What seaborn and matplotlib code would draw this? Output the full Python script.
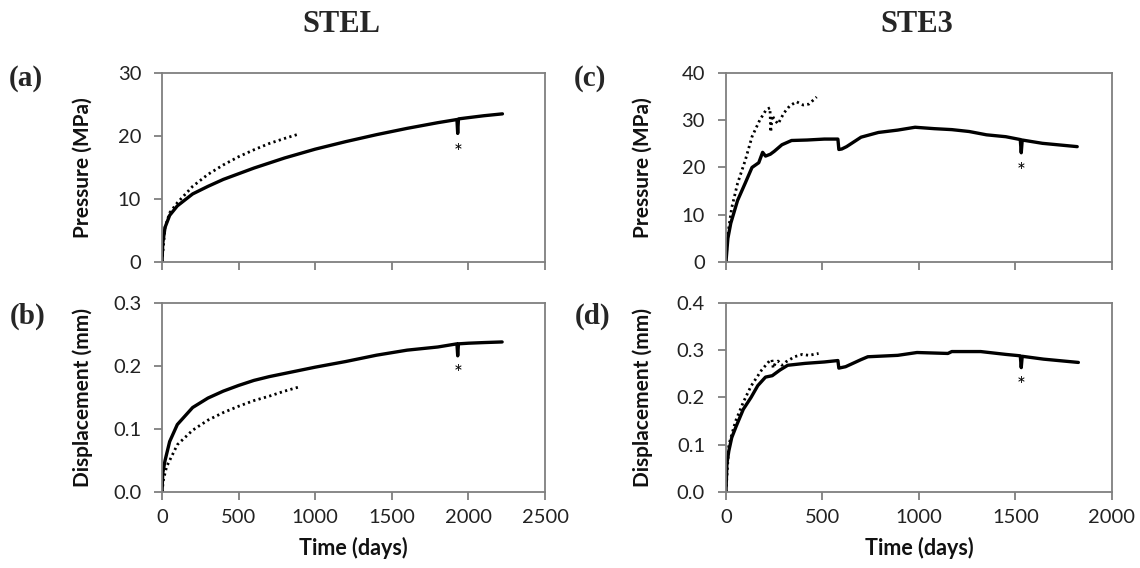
import matplotlib
matplotlib.use("Agg")
import matplotlib.pyplot as plt
import seaborn as sns

# (a) STEL pressure
a_solid_t = [0, 5, 20, 50, 100, 200, 300, 400, 500, 600, 700, 800, 900, 1000,
             1200, 1400, 1600, 1800, 1925, 1930, 1935, 2000, 2100, 2222]
a_solid_v = [0, 3, 5.5, 7.4, 8.9, 10.8, 12.0, 13.1, 14.0, 14.9, 15.7, 16.5, 17.2, 17.9,
             19.1, 20.2, 21.2, 22.1, 22.6, 20.4, 22.7, 22.9, 23.2, 23.5]
a_dot_t = [0, 20, 50, 100, 200, 300, 400, 500, 600, 700, 800, 880]
a_dot_v = [0, 5.5, 7.8, 9.4, 12.0, 13.9, 15.4, 16.7, 17.8, 18.8, 19.6, 20.2]

# (b) STEL displacement
b_solid_t = [0, 5, 20, 50, 100, 200, 300, 400, 500, 600, 700, 800, 900, 1000,
             1200, 1400, 1600, 1800, 1925, 1930, 1935, 2000, 2100, 2220]
b_solid_v = [0, 0.03, 0.05, 0.08, 0.107, 0.134, 0.149, 0.16, 0.169, 0.177, 0.183, 0.188,
             0.193, 0.198, 0.207, 0.217, 0.225, 0.230, 0.235, 0.216, 0.235, 0.236, 0.237, 0.238]
b_dot_t = [0, 10, 30, 50, 100, 200, 300, 400, 500, 600, 700, 800, 900]
b_dot_v = [0, 0.02, 0.04, 0.05, 0.075, 0.098, 0.114, 0.126, 0.136, 0.145, 0.152, 0.160, 0.167]

# (c) STE3 pressure
c_solid_t = [0, 10, 25, 60, 100, 135, 170, 190, 205, 230, 250, 290, 340, 420, 510, 580,
             585, 600, 625, 700, 790, 890, 980, 1080, 1170, 1260, 1350, 1450, 1525, 1530,
             1535, 1640, 1820]
c_solid_v = [0, 5, 8.2, 13, 16.7, 20, 21, 23.2, 22.4, 22.8, 23.4, 24.8, 25.7, 25.8, 26.0, 26.0,
             23.8, 23.9, 24.4, 26.4, 27.4, 27.9, 28.5, 28.2, 28.0, 27.6, 26.9, 26.5, 25.9, 23.1,
             25.8, 25.1, 24.4]
c_dot_t = [0, 8, 30, 60, 100, 135, 175, 210, 228, 232, 240, 250, 270, 300, 330, 365, 400, 430, 470]
c_dot_v = [0, 5.4, 11.5, 16.6, 21.5, 26.5, 30, 32.3, 32.6, 27.5, 31, 30.2, 29.2, 31.5, 33.0,
           33.9, 33.2, 33.4, 34.9]

# (d) STE3 displacement
d_solid_t = [0, 5, 15, 30, 53, 90, 130, 165, 205, 240, 280, 320, 410, 510, 580, 585, 620,
             700, 735, 890, 990, 1150, 1170, 1320, 1450, 1525, 1530, 1535, 1645, 1826]
d_solid_v = [0, 0.06, 0.087, 0.115, 0.139, 0.175, 0.2, 0.225, 0.243, 0.246, 0.258, 0.268,
             0.272, 0.275, 0.278, 0.262, 0.265, 0.280, 0.286, 0.289, 0.295, 0.293, 0.297,
             0.297, 0.291, 0.288, 0.263, 0.287, 0.281, 0.274]
d_dot_t = [0, 15, 50, 90, 130, 185, 225, 238, 245, 255, 270, 290, 310, 355, 395, 430, 480]
d_dot_v = [0, 0.10, 0.15, 0.19, 0.224, 0.258, 0.277, 0.280, 0.262, 0.272, 0.277, 0.268,
           0.275, 0.286, 0.291, 0.289, 0.293]

# asterisk marks (time, value)
stars = {'a': (1930, 17.3), 'b': (1930, 0.187), 'c': (1527, 19.1), 'd': (1527, 0.225)}

sns.set_style("ticks", {'axes.edgecolor': '#7f7f7f', 'xtick.color': '#7f7f7f',
                        'ytick.color': '#7f7f7f'})
plt.rcParams['font.family'] = ['Lato', 'DejaVu Sans']

fig = plt.figure(figsize=(11.4, 5.68), dpi=100)
lh = 0.333
ax_a = fig.add_axes([0.1421, 0.5387, 0.336, lh])
ax_b = fig.add_axes([0.1421, 0.1338, 0.336, lh])
ax_c = fig.add_axes([0.6368, 0.5387, 0.3386, lh])
ax_d = fig.add_axes([0.6368, 0.1338, 0.3386, lh])

panels = [
    (ax_a, a_solid_t, a_solid_v, a_dot_t, a_dot_v, 'a', 2500, 30, 10, 'Pressure (MPa)', -0.18),
    (ax_b, b_solid_t, b_solid_v, b_dot_t, b_dot_v, 'b', 2500, 0.3, 0.1, 'Displacement (mm)', -0.18),
    (ax_c, c_solid_t, c_solid_v, c_dot_t, c_dot_v, 'c', 2000, 40, 10, 'Pressure (MPa)', -0.19),
    (ax_d, d_solid_t, d_solid_v, d_dot_t, d_dot_v, 'd', 2000, 0.4, 0.1, 'Displacement (mm)', -0.19),
]

for ax, st, sv, dt, dv, key, xmax, ymax, ystep, ylab, ylx in panels:
    sns.lineplot(x=dt, y=dv, ax=ax, color='black', lw=2.0,
                 linestyle=(0, (0.8, 1.2)), estimator=None)
    sns.lineplot(x=st, y=sv, ax=ax, color='black', lw=2.4, estimator=None)
    sx, sy = stars[key]
    ax.text(sx, sy, '*', ha='center', va='center', fontsize=15, color='black')

    ax.set_xlim(0, xmax)
    ax.set_ylim(0, ymax)
    ax.set_xticks(range(0, xmax + 1, 500))
    n = int(round(ymax / ystep))
    yt = [i * ystep for i in range(n + 1)]
    ax.set_yticks(yt)
    if ystep < 1:
        ax.set_yticklabels(['%.1f' % v for v in yt])
    for s in ax.spines.values():
        s.set_visible(True)
        s.set_linewidth(1.3)
    ax.tick_params(axis='both', direction='out', length=6, width=1.3,
                   labelsize=14.5, labelcolor='#222222')
    ax.tick_params(axis='y', pad=9)
    ax.tick_params(axis='x', pad=6)
    ax.set_ylabel(ylab, fontsize=15, fontweight='bold', color='#111111')
    ax.yaxis.set_label_coords(ylx, 0.5)
    if key in ('a', 'c'):
        ax.set_xticklabels([])
        ax.set_xlabel('')
    else:
        ax.set_xlabel('Time (days)', fontsize=15.5, fontweight='bold', color='#111111')
        ax.xaxis.set_label_coords(0.5, -0.24)

serif = ['Liberation Serif', 'DejaVu Serif']
fig.text(341 / 1140, 1 - 25 / 568, 'STEL', ha='center', va='center',
         fontsize=22, fontweight='bold', family=serif)
fig.text(917 / 1140, 1 - 25 / 568, 'STE3', ha='center', va='center',
         fontsize=22, fontweight='bold', family=serif)
for lab, x, y in [('(a)', 26, 79), ('(b)', 28, 316), ('(c)', 590, 79), ('(d)', 593, 316)]:
    fig.text(x / 1140, 1 - y / 568, lab, ha='center', va='center',
             fontsize=21, fontweight='bold', family=serif)

plt.savefig('out.png', dpi=100)
